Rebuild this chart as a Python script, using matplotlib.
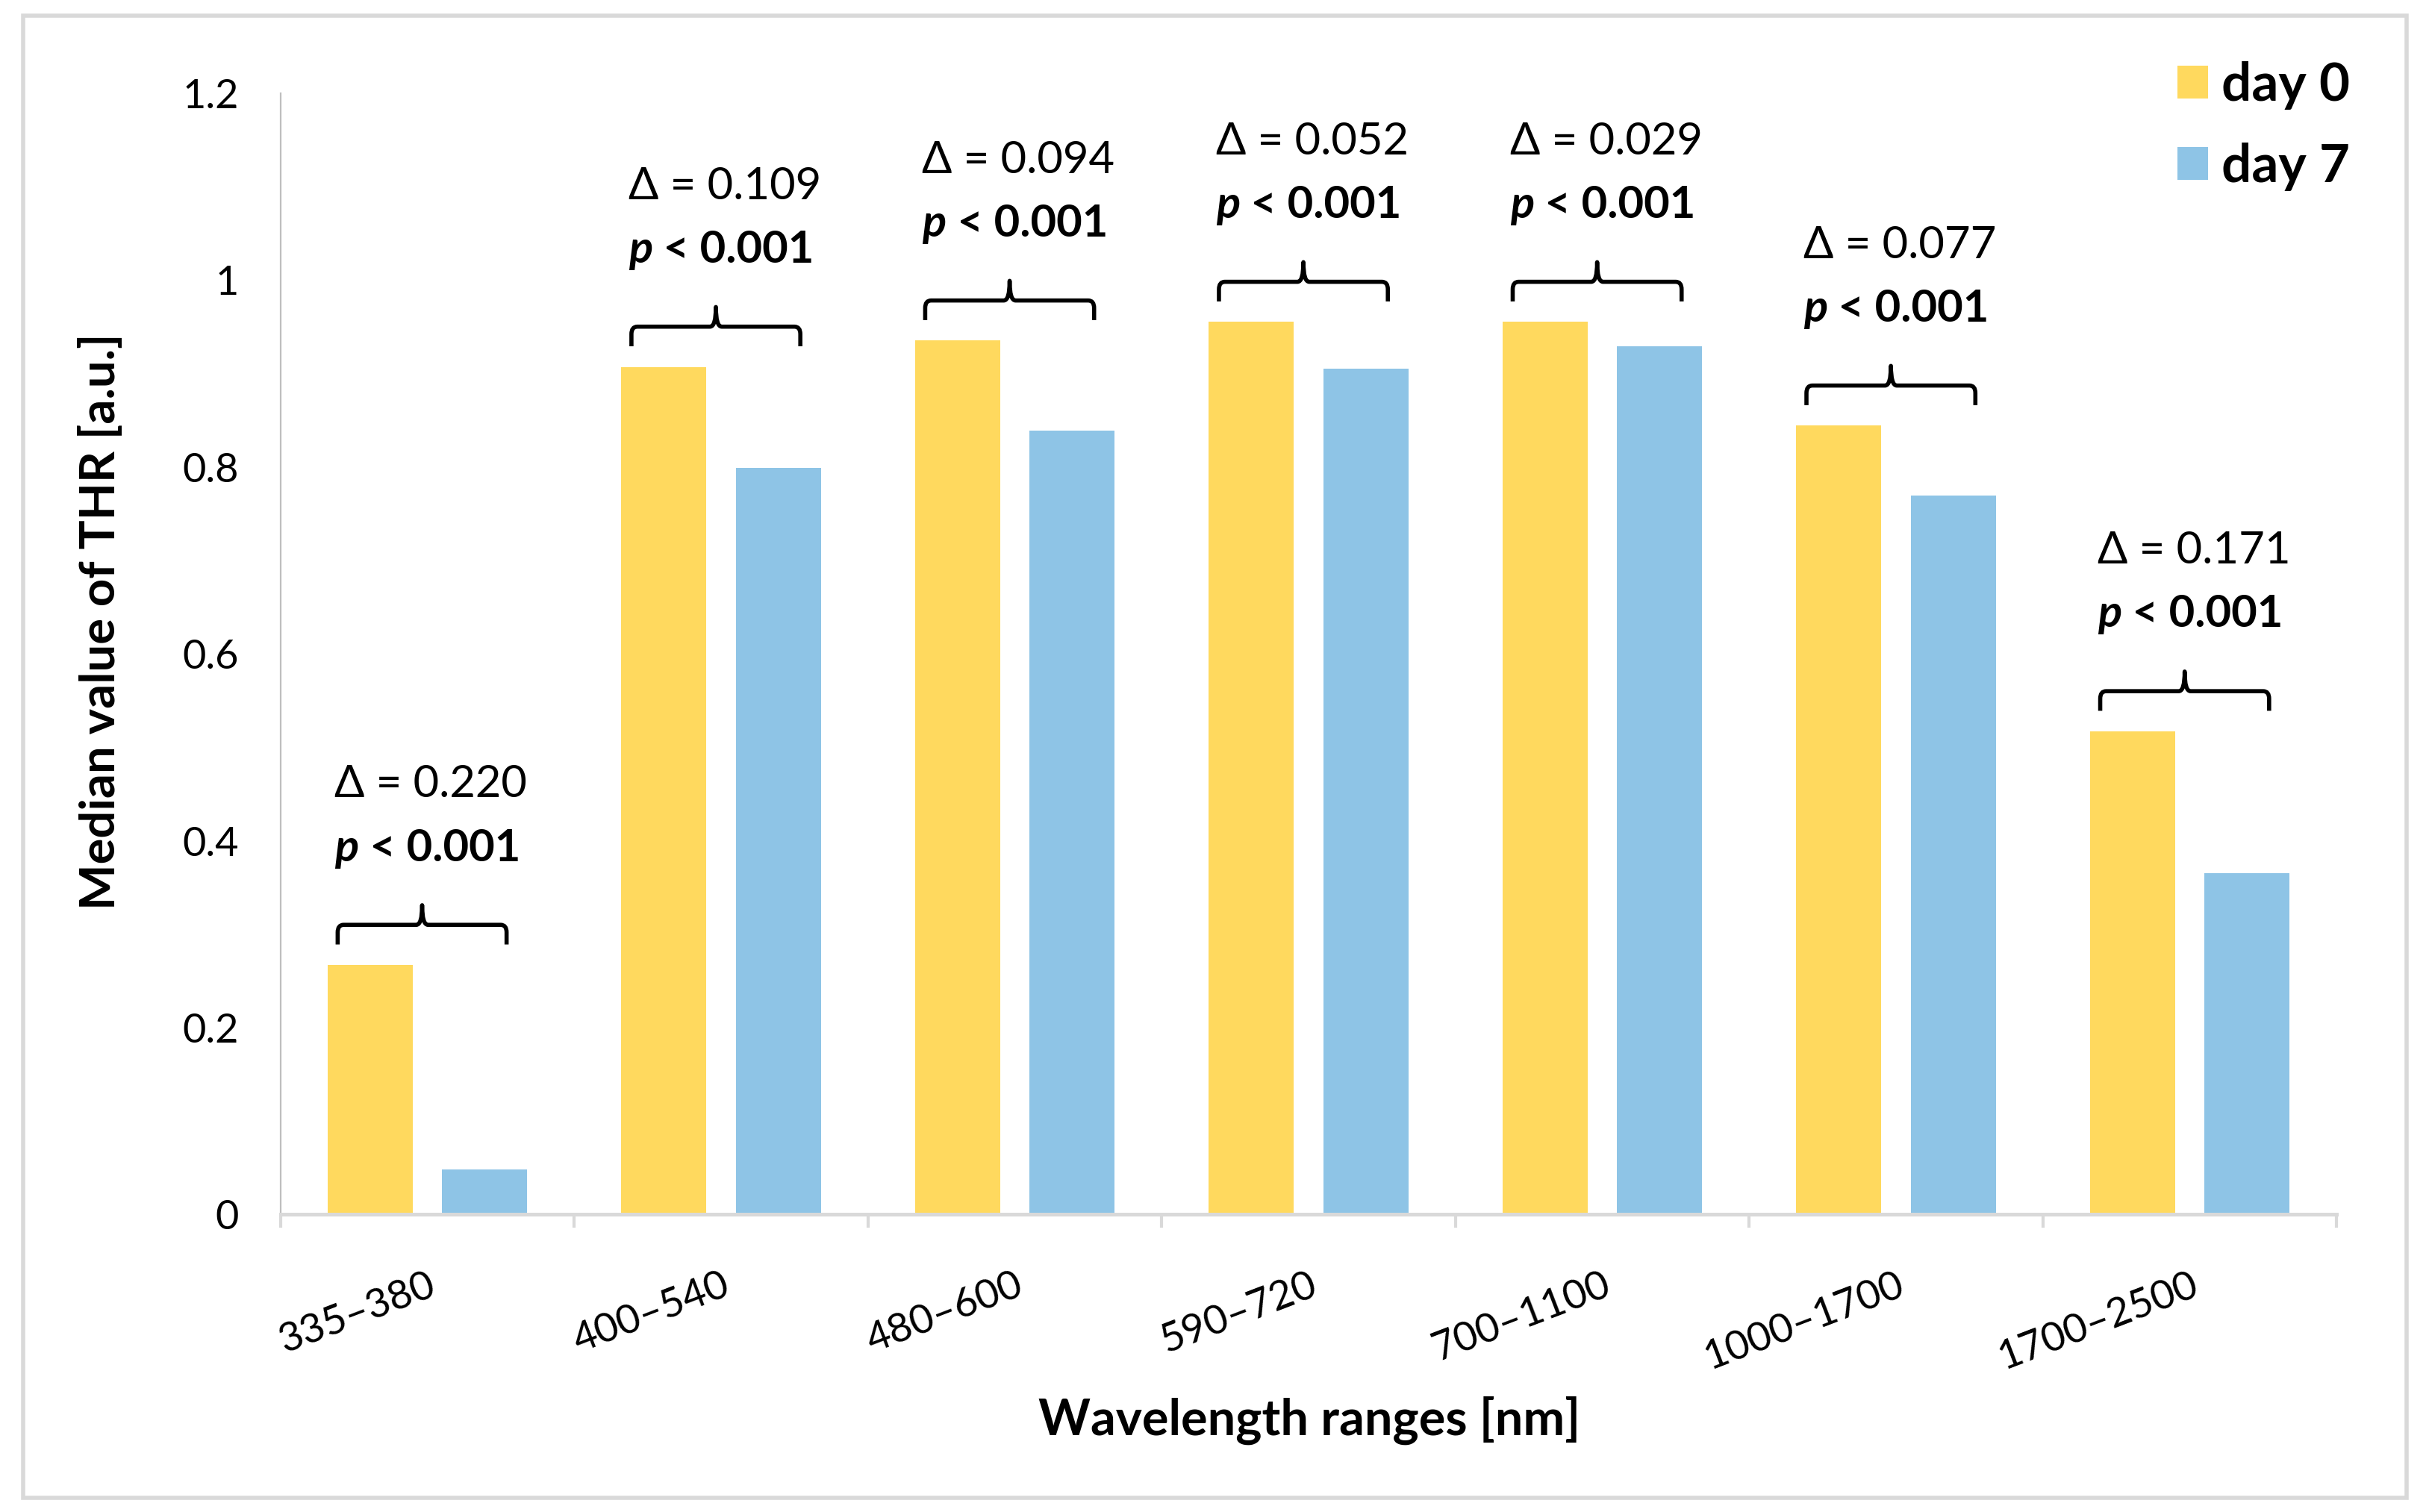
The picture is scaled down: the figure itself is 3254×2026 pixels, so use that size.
import matplotlib
matplotlib.use("Agg")
import matplotlib.pyplot as plt
from matplotlib.path import Path as MPath
from matplotlib.patches import PathPatch, Patch, Rectangle
import numpy as np

plt.rcParams['font.family'] = ['Lato', 'DejaVu Sans']

# data
ranges = ["335–380", "400–540", "480–600", "590–720", "700–1100", "1000–1700", "1700–2500"]
day0 = [0.267, 0.907, 0.935, 0.955, 0.955, 0.844, 0.517]
day7 = [0.048, 0.799, 0.839, 0.905, 0.929, 0.769, 0.365]
deltas = ["0.220", "0.109", "0.094", "0.052", "0.029", "0.077", "0.171"]
pvals = ["0.001"] * 7

yellow = '#FFD95E'
blue = '#8EC4E6'

fig = plt.figure(figsize=(32.55, 20.26), dpi=100)
ax = fig.add_axes([0.1154, 0.1967, 0.8463, 0.7418])

x = np.arange(len(ranges))
w = 0.29
off = 0.195
ax.bar(x - off, day0, w, color=yellow, label='day 0')
ax.bar(x + off, day7, w, color=blue, label='day 7')

ax.set_xlim(-0.5, len(ranges) - 0.5)
ax.set_ylim(0, 1.2)
ax.set_yticks([0, 0.2, 0.4, 0.6, 0.8, 1.0, 1.2])
ax.set_yticklabels(["0", "0.2", "0.4", "0.6", "0.8", "1", "1.2"])
ax.tick_params(axis='y', length=0, pad=40, labelsize=39)

ax.set_xticks(x)
ax.set_xticklabels(ranges, rotation=21, ha='right', va='top', rotation_mode='anchor')
ax.set_xticks(np.arange(len(ranges) + 1) - 0.5, minor=True)
ax.tick_params(axis='x', which='major', length=0, pad=50, labelsize=39)
ax.tick_params(axis='x', which='minor', length=13, width=3, color='#D9D9D9')

for s in ['top', 'right']:
    ax.spines[s].set_visible(False)
ax.spines['left'].set_color('#BFBFBF')
ax.spines['left'].set_linewidth(1.6)
ax.spines['bottom'].set_color('#D9D9D9')
ax.spines['bottom'].set_linewidth(3.6)

# braces with delta / p annotations
for i in range(len(ranges)):
    c = x[i]
    x0 = c - 0.305
    x1 = c + 0.27
    xm = (x0 + x1) / 2
    yh = max(day0[i], day7[i]) + 0.043
    yb = yh - 0.021
    yt = yh + 0.021
    rx = 0.02
    ry = 0.008
    verts = [(x0, yb), (x0, yh - ry), (x0, yh), (x0 + rx, yh),
             (xm - rx, yh), (xm, yh), (xm, yt),
             (xm, yh), (xm + rx, yh),
             (x1 - rx, yh), (x1, yh), (x1, yh - ry), (x1, yb)]
    codes = [MPath.MOVETO, MPath.LINETO, MPath.CURVE3, MPath.CURVE3,
             MPath.LINETO, MPath.CURVE3, MPath.CURVE3,
             MPath.CURVE3, MPath.CURVE3,
             MPath.LINETO, MPath.CURVE3, MPath.CURVE3, MPath.LINETO]
    ax.add_patch(PathPatch(MPath(verts, codes), fill=False, lw=4,
                           edgecolor='black', capstyle='butt', joinstyle='round'))

    ax.text(x0 - 0.01, yh + 0.15, "Δ = " + deltas[i], fontsize=43,
            ha='left', va='center')
    tp = ax.text(x0 - 0.01, yh + 0.082, "p", fontsize=43, fontweight='bold',
                 fontstyle='italic', ha='left', va='center')
    ax.annotate(" < " + pvals[i], xy=(1, 0), xycoords=tp, fontsize=43,
                fontweight='bold', ha='left', va='bottom')

fig.text(0.5389, 0.0605, "Wavelength ranges [nm]", fontsize=48,
         fontweight='bold', ha='center', va='center')
fig.text(0.0415, 0.589, "Median value of THR [a.u.]", fontsize=47,
         fontweight='bold', ha='center', va='center', rotation=90)

handles = [Patch(facecolor=yellow), Patch(facecolor=blue)]
fig.legend(handles, ['day 0', 'day 7'], loc='upper right',
           bbox_to_anchor=(0.978, 0.977), frameon=False, borderpad=0,
           prop={'size': 51, 'weight': 'bold'}, handlelength=0.58,
           handleheight=0.58, handletextpad=0.25, labelspacing=0.62)

# outer chart border
fig.patches.append(Rectangle((0.0096, 0.0092), 0.9808, 0.9806,
                             transform=fig.transFigure, fill=False,
                             edgecolor='#D9D9D9', lw=4))

fig.savefig("out.png", dpi=100)
